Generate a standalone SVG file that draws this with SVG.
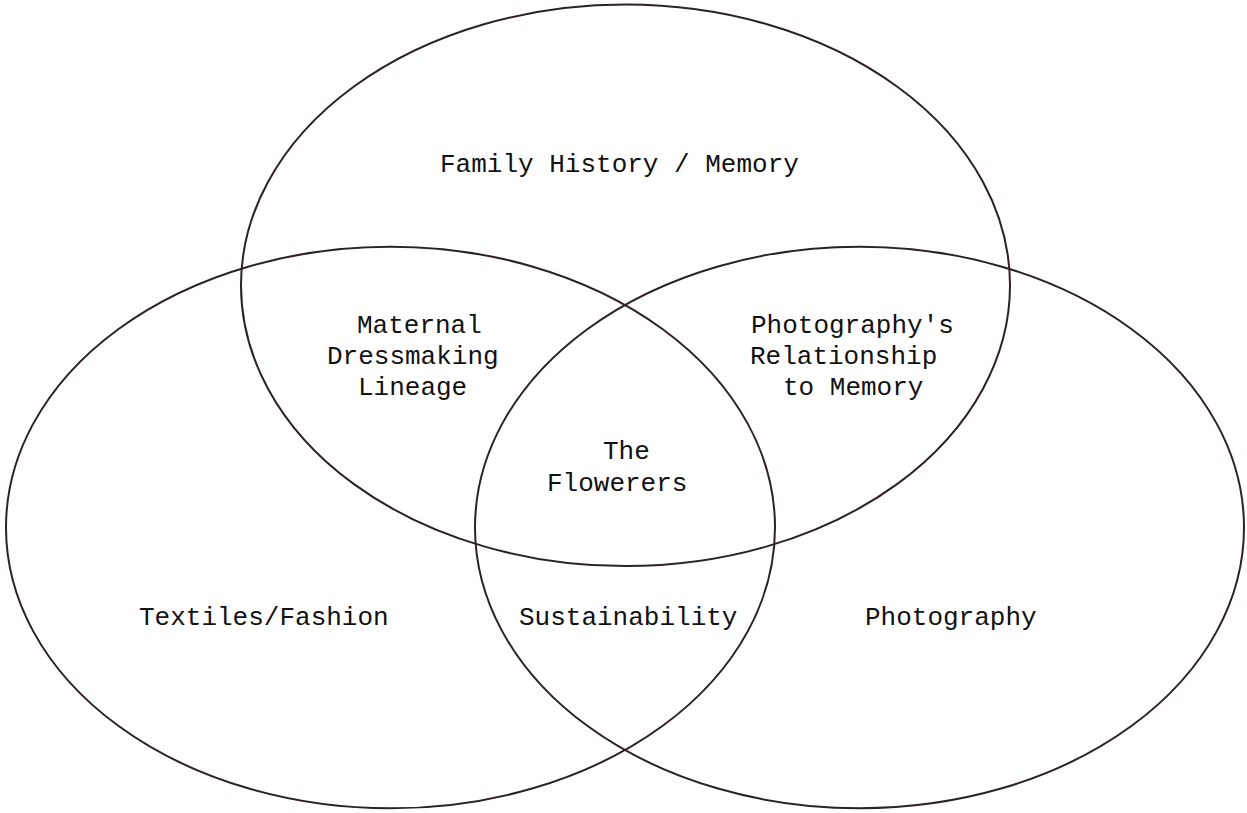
<svg xmlns="http://www.w3.org/2000/svg" width="1247" height="813" viewBox="0 0 1247 813">
<style>
.c{fill:none;stroke:#2e2024;stroke-width:2}
text{font-family:"Liberation Mono","Courier New",monospace;font-size:26px;fill:#111}
</style>
<rect width="1247" height="813" fill="#fff"/>
<g id="connectors"></g>
<g id="family"><ellipse class="c" cx="625.5" cy="285.3" rx="384.5" ry="280.8"/><text x="440" y="172">Family History / Memory</text></g>
<g id="textiles"><ellipse class="c" cx="390.5" cy="527.5" rx="384.5" ry="280.8"/><text x="139" y="625">Textiles/Fashion</text></g>
<g id="photography"><ellipse class="c" cx="859.5" cy="527.5" rx="384.5" ry="280.8"/><text x="865" y="625">Photography</text></g>
<g id="maternal"><text x="357" y="333">Maternal</text><text x="327" y="364">Dressmaking</text><text x="358" y="395">Lineage</text></g>
<g id="photomemory"><text x="751" y="333">Photography's</text><text x="750" y="364">Relationship</text><text x="783" y="395">to Memory</text></g>
<g id="flowerers"><text x="603" y="459">The</text><text x="547" y="491">Flowerers</text></g>
<g id="sustainability"><text x="519" y="625">Sustainability</text></g>
</svg>
